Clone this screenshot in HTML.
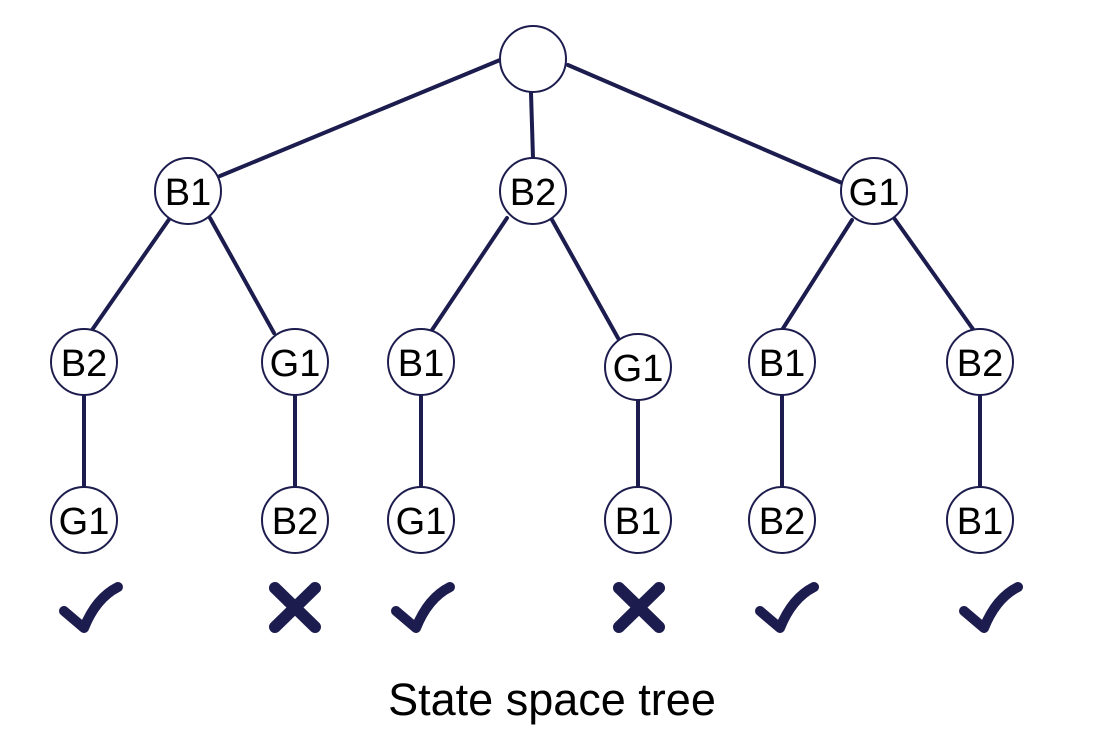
<!DOCTYPE html>
<html><head><style>body{margin:0;background:#fff}</style></head><body>
<svg width="1101" height="741" viewBox="0 0 1101 741" xmlns="http://www.w3.org/2000/svg">
<g stroke="#1c1c4e" stroke-width="4" stroke-linecap="round" fill="none">
<line x1="500" y1="60" x2="220" y2="176"/>
<line x1="531" y1="93" x2="533" y2="158"/>
<line x1="568" y1="65" x2="842" y2="183"/>
<line x1="170" y1="218" x2="92" y2="330"/>
<line x1="210" y1="218" x2="274" y2="333"/>
<line x1="507" y1="218" x2="432" y2="330"/>
<line x1="551" y1="218" x2="618" y2="338"/>
<line x1="852" y1="220" x2="782" y2="330"/>
<line x1="894" y1="218" x2="975" y2="332"/>
<line x1="84" y1="395" x2="84" y2="487"/>
<line x1="295" y1="395" x2="295" y2="487"/>
<line x1="421" y1="395" x2="421" y2="487"/>
<line x1="638" y1="400" x2="638" y2="487"/>
<line x1="782" y1="395" x2="782" y2="487"/>
<line x1="980" y1="395" x2="980" y2="487"/>
</g>
<g stroke="#1c1c4e" stroke-width="2" fill="#fff">
<circle cx="533" cy="59" r="33"/>
<circle cx="188" cy="191" r="33"/><circle cx="533" cy="191" r="33"/><circle cx="874" cy="191" r="33"/>
<circle cx="84" cy="362" r="33"/><circle cx="295" cy="362" r="33"/><circle cx="421" cy="362" r="33"/>
<circle cx="638" cy="367" r="33"/><circle cx="782" cy="362" r="33"/><circle cx="980" cy="362" r="33"/>
<circle cx="84" cy="520" r="33"/><circle cx="295" cy="520" r="33"/><circle cx="421" cy="520" r="33"/>
<circle cx="638" cy="520" r="33"/><circle cx="782" cy="520" r="33"/><circle cx="980" cy="520" r="33"/>
</g>
<g font-family="Liberation Sans, sans-serif" font-size="38" text-anchor="middle" fill="#000">
<text x="188" y="205">B1</text><text x="533" y="205">B2</text><text x="874" y="205">G1</text>
<text x="84" y="376">B2</text><text x="295" y="376">G1</text><text x="421" y="376">B1</text>
<text x="638" y="381">G1</text><text x="782" y="376">B1</text><text x="980" y="376">B2</text>
<text x="84" y="534">G1</text><text x="295" y="534">B2</text><text x="421" y="534">G1</text>
<text x="638" y="534">B1</text><text x="782" y="534">B2</text><text x="980" y="534">B1</text>
<text x="552" y="715" font-size="45">State space tree</text>
</g>
<g stroke="#1c1c4e" stroke-width="10" stroke-linecap="round" stroke-linejoin="round" fill="none">
<path d="M64 611 L84 628 Q96 598 118 587"/>
<path d="M396 611 L416 628 Q428 598 450 587"/>
<path d="M760 611 L780 628 Q792 598 814 587"/>
<path d="M964 611 L984 628 Q996 598 1018 587"/>
</g>
<g stroke="#1c1c4e" stroke-width="12" stroke-linecap="round" fill="none">
<path d="M275 588 L315 627 M315 588 L275 627"/>
<path d="M619 588 L659 627 M659 588 L619 627"/>
</g>
</svg>
</body></html>
